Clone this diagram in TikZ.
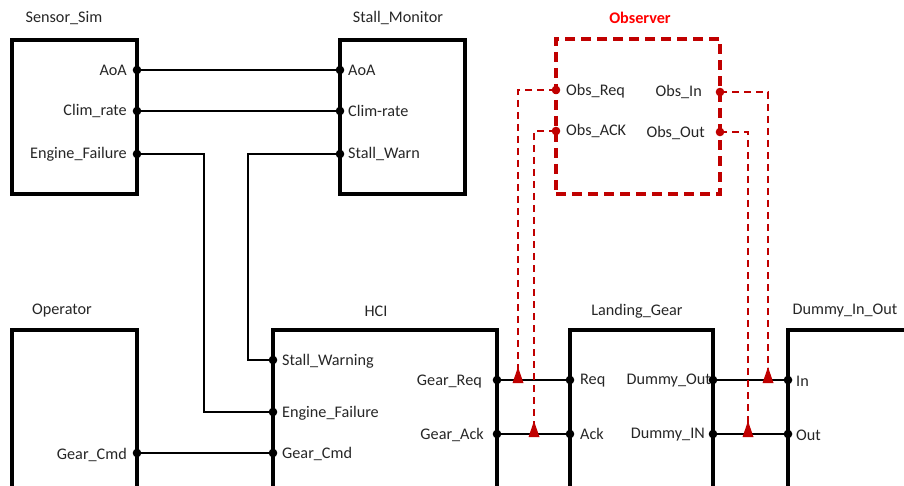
\documentclass[tikz,border=0pt]{standalone}
\usepackage{fontspec}
\setmainfont{Carlito}
\begin{document}
\begin{tikzpicture}[x=1pt,y=-1pt,
  font=\fontsize{16.2}{19}\selectfont,
  blk/.style={draw=black, line width=3.5pt, minimum width=#1, inner sep=0pt},
  blk/.default=125pt,
  obsbox/.style={draw=obsred, line width=3.5pt, dash pattern=on 10pt off 6pt, inner sep=0pt},
  wire/.style={draw=black, line width=2.6pt},
  obswire/.style={draw=obsred, line width=2.2pt, dash pattern=on 7pt off 5pt},
  pl/.style={anchor=west, inner sep=0pt, text=black!85},
  pr/.style={anchor=east, inner sep=0pt, text=black!85},
  ttl/.style={inner sep=0pt, text=black!85},
  dotb/.style={fill=black},
  dotr/.style={fill=obsred}]
\definecolor{obsred}{RGB}{192,0,0}
\useasboundingbox (0,0) rectangle (904,486);

% ---------- boxes ----------
\node[blk, minimum height=154pt] (ss) at (74.5,117) {};
\node[blk, minimum height=154pt] (sm) at (402.5,117) {};
\node[obsbox, minimum width=164pt, minimum height=155pt] (obs) at (638,116.5) {};
\node[blk, minimum height=164pt] (op) at (74.5,412) {};
\node[blk=224pt, minimum height=164pt] (hci) at (385,412) {};
\node[blk=143pt, minimum height=164pt] (lg) at (641.5,412) {};
\node[blk=140pt, minimum height=164pt] (dio) at (858,412) {};

% ---------- titles ----------
\node[ttl] (tss) at (64,18) {Sensor\_Sim};
\node[ttl] (tsm) at (398,18) {Stall\_Monitor};
\node[ttl, text=red, font=\fontsize{16.2}{19}\selectfont\bfseries] (tobs) at (640,18) {Observer};
\node[ttl] (top) at (62,311) {Operator};
\node[ttl] (thci) at (376,311) {HCI};
\node[ttl] (tlg) at (637,311) {Landing\_Gear};
\node[ttl] (tdio) at (845,311) {Dummy\_In\_Out};

% ---------- ports ----------
\coordinate (ss-aoa) at (137,70);
\coordinate (ss-clim) at (137,111);
\coordinate (ss-eng) at (137,154);
\coordinate (sm-aoa) at (340,70);
\coordinate (sm-clim) at (340,111);
\coordinate (sm-stall) at (340,154);
\coordinate (op-gc) at (137,453);
\coordinate (hci-sw) at (273,360);
\coordinate (hci-ef) at (273,412);
\coordinate (hci-gc) at (273,453);
\coordinate (hci-gr) at (497,380);
\coordinate (hci-ga) at (497,434);
\coordinate (lg-req) at (570,380);
\coordinate (lg-ack) at (570,434);
\coordinate (lg-do) at (713,380);
\coordinate (lg-di) at (713,434);
\coordinate (dio-in) at (788,380);
\coordinate (dio-out) at (788,434);
\coordinate (obs-req) at (556,90);
\coordinate (obs-ack) at (556,131);
\coordinate (obs-in) at (720,92);
\coordinate (obs-out) at (720,132);
\coordinate (tap-req) at (518,380);
\coordinate (tap-ack) at (534,434);
\coordinate (tap-in) at (768,380);
\coordinate (tap-out) at (748,434);
\coordinate (bend-ef) at (204,154);
\coordinate (bend-sw) at (248,154);

% ---------- port labels ----------
\node[pr] (lss1) at (127,70) {AoA};
\node[pr] (lss2) at (127,111) {Clim\_rate};
\node[pr] (lss3) at (127,154) {Engine\_Failure};
\node[pl] (lsm1) at (348,70) {AoA};
\node[pl] (lsm2) at (348,111) {Clim-rate};
\node[pl] (lsm3) at (348,154) {Stall\_Warn};
\node[pl] (lob1) at (566,91) {Obs\_Req};
\node[pl] (lob2) at (566,131) {Obs\_ACK};
\node[pr] (lob3) at (702,92) {Obs\_In};
\node[pr] (lob4) at (705,133) {Obs\_Out};
\node[pr] (lop1) at (127,455) {Gear\_Cmd};
\node[pl] (lh1) at (282,361) {Stall\_Warning};
\node[pl] (lh2) at (282,413) {Engine\_Failure};
\node[pl] (lh3) at (282,454) {Gear\_Cmd};
\node[pr] (lh4) at (482,382) {Gear\_Req};
\node[pr] (lh5) at (484,435) {Gear\_Ack};
\node[pl] (llg1) at (580,381) {Req};
\node[pl] (llg2) at (580,434) {Ack};
\node[pr] (llg3) at (711,381) {Dummy\_Out};
\node[pr] (llg4) at (705,435) {Dummy\_IN};
\node[pl] (ld1) at (796,381) {In};
\node[pl] (ld2) at (796,435) {Out};

% ---------- black wires ----------
\draw[wire] (ss-aoa) -- (sm-aoa);
\draw[wire] (ss-clim) -- (sm-clim);
\draw[wire, line width=2pt] (ss-eng) -- (bend-ef) |- (hci-ef);
\draw[wire, line width=2pt] (sm-stall) -- (bend-sw) |- (hci-sw);
\draw[wire] (op-gc) -- (hci-gc);
\draw[wire] (hci-gr) -- (lg-req);
\draw[wire] (hci-ga) -- (lg-ack);
\draw[wire] (lg-do) -- (dio-in);
\draw[wire] (lg-di) -- (dio-out);

% ---------- observer taps ----------
\draw[obswire] (obs-req) -| (tap-req);
\draw[obswire] (obs-ack) -| (tap-ack);
\draw[obswire] (obs-in) -| (tap-in);
\draw[obswire] (obs-out) -| (tap-out);
\foreach \t in {tap-req,tap-ack,tap-in,tap-out}{
  \fill[obsred] (\t) ++(-5.5,3) -- ++(11,0) -- ++(-5.5,-16) -- cycle;
}

% ---------- port dots ----------
\foreach \p in {ss-aoa,ss-clim,ss-eng,sm-aoa,sm-clim,sm-stall,op-gc,hci-sw,hci-ef,hci-gc,hci-gr,hci-ga,lg-req,lg-ack,lg-do,lg-di,dio-in,dio-out}{
  \fill[dotb] (\p) circle (4.3pt);
}
\foreach \p in {obs-req,obs-ack,obs-in,obs-out}{
  \fill[dotr] (\p) circle (4.3pt);
}
\end{tikzpicture}
\end{document}
